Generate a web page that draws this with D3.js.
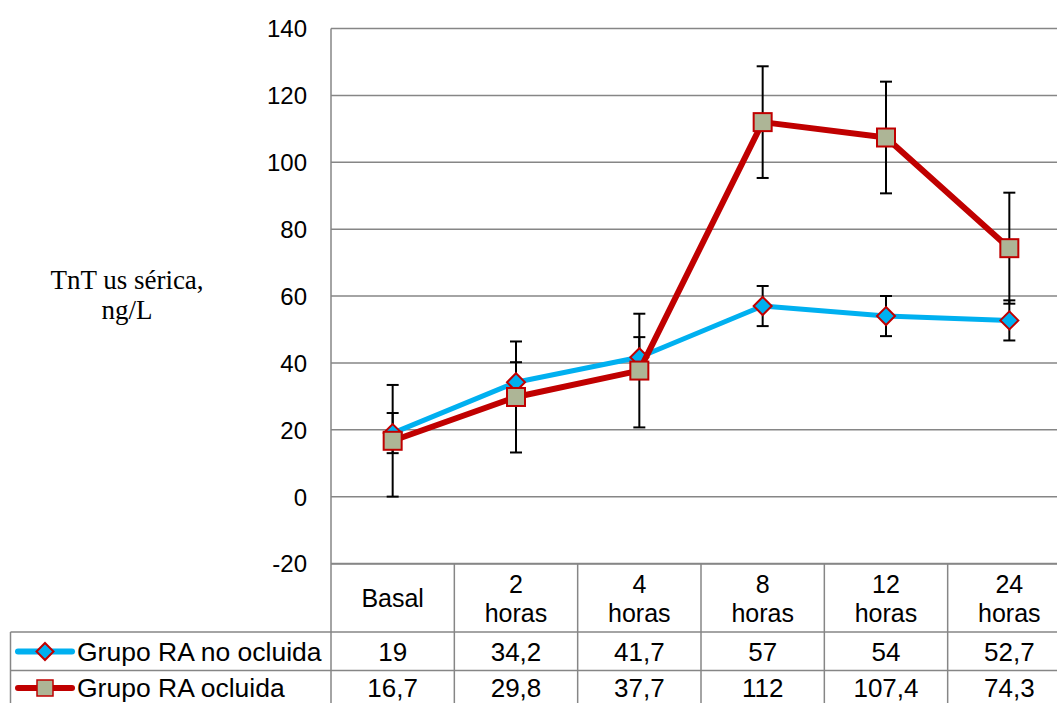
<!DOCTYPE html>
<html>
<head>
<meta charset="utf-8">
<script src="https://cdn.jsdelivr.net/npm/d3@7"></script>
<style>
  html, body { margin: 0; padding: 0; background: #fff; }
  svg { display: block; }
</style>
</head>
<body>
<svg id="chart" width="1057" height="703"></svg>
<script>
// Serum hs-TnT over time, two groups
const categories = ["Basal", "2 horas", "4 horas", "8 horas", "12 horas", "24 horas"];
const seriesNames = ["Grupo RA no ocluida", "Grupo RA ocluida"];
const noOcluida = [19, 34.2, 41.7, 57, 54, 52.7];
const ocluida = [16.7, 29.8, 37.7, 112, 107.4, 74.3];
const errNoOcluida = [6, 6, 6, 6, 6, 6];
const errOcluida = [16.7, 16.6, 17, 16.7, 16.7, 16.6];
const yTicks = [-20, 0, 20, 40, 60, 80, 100, 120, 140];
const yTitle = ["TnT us sérica,", "ng/L"];

const svg = d3.select("#chart");
const W = 1057, H = 703;

const plotLeft = 331, plotRight = 1071, plotTop = 28.5, plotBottom = 563.5;
const gridColor = "#868686";
const blue = "#00B0F0", red = "#C00000", squareFill = "#ADB596";
const sans = "'Liberation Sans', Arial, sans-serif";
const serif = "'Liberation Serif', 'Times New Roman', serif";

const x = d3.scaleBand().domain(categories).range([plotLeft, plotRight]).padding(0);
const y = d3.scaleLinear().domain([-20, 140]).range([plotBottom, plotTop]);
const cx = c => x(c) + x.bandwidth() / 2;

// Gridlines
svg.append("g").selectAll("line").data(yTicks).join("line")
  .attr("x1", plotLeft).attr("x2", W)
  .attr("y1", d => y(d)).attr("y2", d => y(d))
  .attr("stroke", gridColor).attr("stroke-width", 1.5);

// Left axis line, continued through the table
svg.append("line")
  .attr("x1", plotLeft).attr("x2", plotLeft)
  .attr("y1", plotTop).attr("y2", H)
  .attr("stroke", gridColor).attr("stroke-width", 1.5);

// Y tick labels
const yAxis = svg.append("g")
  .attr("transform", `translate(${plotLeft - 24},0)`)
  .call(d3.axisLeft(y).tickValues(yTicks).tickFormat(d => String(d)).tickSize(0).tickPadding(0));
yAxis.select(".domain").remove();
yAxis.selectAll("text")
  .attr("font-family", sans).attr("font-size", 24).attr("fill", "#000")
  .attr("dy", "0.35em");

// Y title
svg.append("text")
  .attr("font-family", serif).attr("font-size", 27).attr("fill", "#000")
  .attr("text-anchor", "middle")
  .selectAll("tspan").data(yTitle).join("tspan")
  .attr("x", 127).attr("y", (d, i) => 289 + i * 30).text(d => d);

// Data table grid
const rowTop = 564, row1 = 632, row2 = 670.5, rowBottom = 709;
svg.append("g").selectAll("line")
  .data([{ y: rowTop, x1: plotLeft }, { y: row1, x1: 10.5 }, { y: row2, x1: 10.5 }, { y: rowBottom, x1: 10.5 }])
  .join("line")
  .attr("x1", d => d.x1).attr("x2", W)
  .attr("y1", d => d.y).attr("y2", d => d.y)
  .attr("stroke", gridColor).attr("stroke-width", 1.5);
svg.append("line")
  .attr("x1", 10.5).attr("x2", 10.5).attr("y1", row1).attr("y2", H)
  .attr("stroke", gridColor).attr("stroke-width", 1.5);
svg.append("g").selectAll("line").data(categories.slice(1)).join("line")
  .attr("x1", d => x(d)).attr("x2", d => x(d))
  .attr("y1", rowTop).attr("y2", H)
  .attr("stroke", gridColor).attr("stroke-width", 1.5);

// Category labels
categories.forEach(c => {
  const parts = c.split(" ");
  const t = svg.append("text")
    .attr("font-family", sans).attr("font-size", 25).attr("fill", "#000")
    .attr("text-anchor", "middle");
  if (parts.length === 1) {
    t.append("tspan").attr("x", cx(c)).attr("y", 598).attr("dy", "0.35em").text(parts[0]);
  } else {
    parts.forEach((p, i) => {
      t.append("tspan").attr("x", cx(c)).attr("y", 584 + i * 29).attr("dy", "0.35em").text(p);
    });
  }
});

// Value rows with series names
const fmt = v => String(v).replace(".", ",");
const rowsData = [
  { name: seriesNames[0], values: noOcluida, cy: 651.5 },
  { name: seriesNames[1], values: ocluida, cy: 688 }
];
rowsData.forEach(r => {
  svg.append("g").selectAll("text").data(r.values).join("text")
    .attr("x", (d, i) => cx(categories[i])).attr("y", r.cy).attr("dy", "0.35em")
    .attr("text-anchor", "middle")
    .attr("font-family", sans).attr("font-size", 26).attr("fill", "#000")
    .text(d => fmt(d));
  svg.append("text")
    .attr("x", 77).attr("y", r.cy).attr("dy", "0.35em")
    .attr("font-family", sans).attr("font-size", 26.5).attr("fill", "#000")
    .text(r.name);
});

// Legend keys inside the table
const keyY1 = rowsData[0].cy, keyY2 = rowsData[1].cy;
svg.append("line").attr("x1", 18).attr("x2", 72).attr("y1", keyY1).attr("y2", keyY1)
  .attr("stroke", blue).attr("stroke-width", 6).attr("stroke-linecap", "round");
svg.append("path")
  .attr("d", "M0,-8.5 L8.5,0 L0,8.5 L-8.5,0 Z")
  .attr("transform", `translate(45,${keyY1})`)
  .attr("fill", blue).attr("stroke", red).attr("stroke-width", 2);
svg.append("line").attr("x1", 18).attr("x2", 72).attr("y1", keyY2).attr("y2", keyY2)
  .attr("stroke", red).attr("stroke-width", 6).attr("stroke-linecap", "round");
svg.append("rect").attr("x", 45 - 8).attr("y", keyY2 - 8).attr("width", 16).attr("height", 16)
  .attr("fill", squareFill).attr("stroke", red).attr("stroke-width", 1.5);

// Error bars
const capHalf = 6;
function errorBars(values, errs) {
  const g = svg.append("g").attr("stroke", "#000").attr("stroke-width", 2);
  values.forEach((v, i) => {
    const px = cx(categories[i]);
    const y1 = y(v + errs[i]), y0 = y(v - errs[i]);
    g.append("line").attr("x1", px).attr("x2", px).attr("y1", y1).attr("y2", y0);
    g.append("line").attr("x1", px - capHalf).attr("x2", px + capHalf).attr("y1", y1).attr("y2", y1);
    g.append("line").attr("x1", px - capHalf).attr("x2", px + capHalf).attr("y1", y0).attr("y2", y0);
  });
}
errorBars(noOcluida, errNoOcluida);
errorBars(ocluida, errOcluida);

const line = d3.line().x((d, i) => cx(categories[i])).y(d => y(d));

// Series: no ocluida
svg.append("path").datum(noOcluida).attr("d", line)
  .attr("fill", "none").attr("stroke", blue).attr("stroke-width", 5)
  .attr("stroke-linejoin", "round");
svg.append("g").selectAll("path").data(noOcluida).join("path")
  .attr("d", "M0,-9 L9,0 L0,9 L-9,0 Z")
  .attr("transform", (d, i) => `translate(${cx(categories[i])},${y(d)})`)
  .attr("fill", blue).attr("stroke", red).attr("stroke-width", 2);

// Series: ocluida
svg.append("path").datum(ocluida).attr("d", line)
  .attr("fill", "none").attr("stroke", red).attr("stroke-width", 6)
  .attr("stroke-linejoin", "round");
svg.append("g").selectAll("rect").data(ocluida).join("rect")
  .attr("x", (d, i) => cx(categories[i]) - 9).attr("y", d => y(d) - 9)
  .attr("width", 18).attr("height", 18)
  .attr("fill", squareFill).attr("stroke", red).attr("stroke-width", 2);
</script>
</body>
</html>
